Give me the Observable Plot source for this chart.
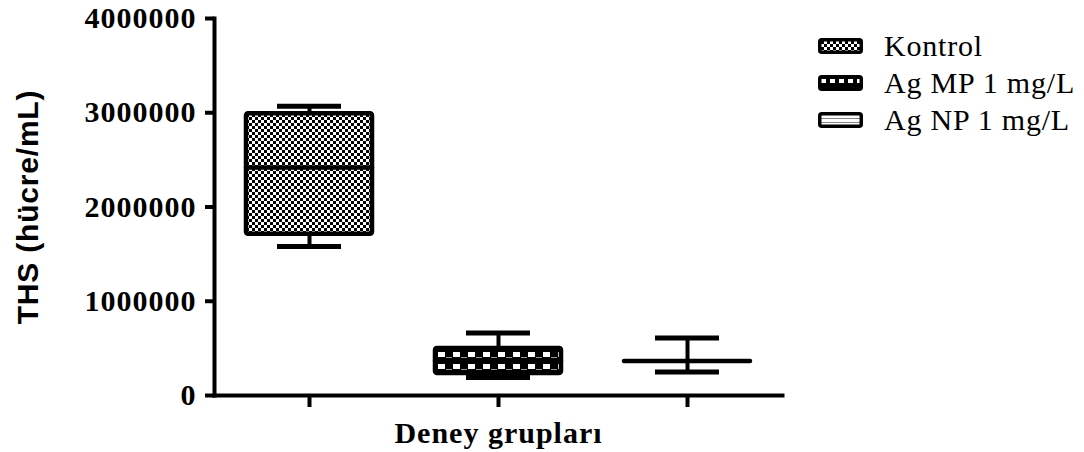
<!DOCTYPE html>
<html>
<head>
<meta charset="utf-8">
<script src="https://cdn.jsdelivr.net/npm/d3@7"></script>
<script src="https://cdn.jsdelivr.net/npm/@observablehq/plot@0.6"></script>
<style>
  html, body { margin: 0; padding: 0; background: #fff; }
  #wrap { position: relative; width: 1084px; height: 452px; }
  #legend { position: absolute; left: 818px; top: 27px; font-family: "Liberation Serif", serif; font-size: 30px; letter-spacing: 0.8px; color: #000; }
  #legend .row { display: flex; align-items: center; height: 37px; }
  #legend svg { margin-right: 21px; }
  .ytitle text { font-family: "Liberation Sans", Arial, sans-serif !important; font-weight: bold; font-size: 30px; letter-spacing: 0.8px; }
</style>
</head>
<body>
<svg width="0" height="0" style="position:absolute">
  <defs>
    <pattern id="pKontrol" width="6" height="6" patternUnits="userSpaceOnUse">
      <rect width="6" height="6" fill="#fff"/>
      <rect width="3" height="3" fill="#000"/>
      <rect x="3" y="3" width="3" height="3" fill="#000"/>
    </pattern>
    <pattern id="pMP" x="438" y="352" width="15" height="12" patternUnits="userSpaceOnUse">
      <rect width="15" height="12" fill="#000"/>
      <rect width="7" height="5" fill="#fff"/>
      <rect x="8" y="5" width="6" height="1" fill="#999"/>
    </pattern>
    <pattern id="pNP" width="4" height="4" patternUnits="userSpaceOnUse">
      <rect width="4" height="4" fill="#fff"/>
      <rect y="3" width="4" height="1" fill="#777"/>
    </pattern>
    <pattern id="lMP" x="3" y="4" width="9" height="14" patternUnits="userSpaceOnUse">
      <rect width="9" height="14" fill="#000"/>
      <rect width="5" height="4" fill="#fff"/>
    </pattern>
    <pattern id="lNP" x="0" y="3" width="4" height="4" patternUnits="userSpaceOnUse">
      <rect width="4" height="4" fill="#fff"/>
      <rect y="3" width="4" height="1" fill="#888"/>
    </pattern>
  </defs>
</svg>
<div id="wrap"><div id="legend"></div></div>
<script>
// ---- data ----
const groups  = ["Kontrol", "Ag MP 1 mg/L", "Ag NP 1 mg/L"];
const mins    = [1580000, 190000, 250000];
const q1s     = [1710000, 233000, 366000];
const medians = [2420000, 370000, 366000];
const q3s     = [2990000, 500000, 366000];
const maxs    = [3070000, 663000, 610000];
const patterns = ["url(#pKontrol)", "url(#pMP)", "url(#pNP)"];
const legendPatterns = ["url(#pKontrol)", "url(#lMP)", "url(#lNP)"];
const yTicks  = [0, 1000000, 2000000, 3000000, 4000000];
const yTitle  = "THS (hücre/mL)";
const xTitle  = "Deney grupları";

const rows = groups.map((g, i) => ({
  group: g, min: mins[i], q1: q1s[i], median: medians[i], q3: q3s[i], max: maxs[i], pat: patterns[i]
}));

const chart = Plot.plot({
  width: 1084,
  height: 452,
  marginLeft: 214,
  marginRight: 302,
  marginTop: 18,
  marginBottom: 57,
  style: { fontFamily: "Liberation Serif, serif", fontSize: "30px", fontWeight: "bold", letterSpacing: "1px", overflow: "visible", background: "#fff" },
  x: { type: "band", domain: groups, paddingInner: 0.333, paddingOuter: 0.169, axis: null },
  y: { domain: [0, 4000000], axis: null },
  color: { type: "identity" },
  marks: [
    // whiskers
    Plot.ruleX(rows, { x: "group", y1: "q3", y2: "max", stroke: "#000", strokeWidth: 4 }),
    Plot.ruleX(rows, { x: "group", y1: "min", y2: "q1", stroke: "#000", strokeWidth: 4 }),
    Plot.tickY(rows, { x: "group", y: "max", stroke: "#000", strokeWidth: 5, insetLeft: 31, insetRight: 31 }),
    Plot.tickY(rows, { x: "group", y: "min", stroke: "#000", strokeWidth: 5, insetLeft: 31, insetRight: 31 }),
    // boxes
    Plot.barY(rows, { x: "group", y1: "q1", y2: "q3", fill: "pat", stroke: "#000", strokeWidth: 4.5, strokeLinejoin: "round", rx: 2 }),
    Plot.tickY(rows, { x: "group", y: "median", stroke: "#000", strokeWidth: 4.5, strokeLinecap: "round" }),
    // axes
    Plot.axisY({ ticks: yTicks, tickFormat: d3.format("d"), tickSize: 9, tickPadding: 9, strokeWidth: 4, label: null }),
    Plot.axisX({ tickSize: 12, tickFormat: () => "", strokeWidth: 4, label: null }),
    Plot.frame({ anchor: "left", strokeWidth: 4, strokeLinecap: "square" }),
    Plot.frame({ anchor: "bottom", strokeWidth: 4, strokeLinecap: "square" }),
    // titles
    Plot.text([xTitle], { frameAnchor: "bottom", dy: 47, text: d => d, fontSize: 30, fontWeight: "bold" }),
    Plot.text([yTitle], { frameAnchor: "left", dx: -186, rotate: -90, textAnchor: "middle", text: d => d, className: "ytitle" })
  ]
});
document.getElementById("wrap").prepend(chart);

// legend
const legend = d3.select("#legend");
groups.forEach((g, i) => {
  const row = legend.append("div").attr("class", "row");
  const s = row.append("svg").attr("width", 45).attr("height", 16);
  s.append("rect").attr("x", 1.75).attr("y", 1.75).attr("width", 41.5).attr("height", 12.5)
    .attr("rx", 2).attr("fill", legendPatterns[i]).attr("stroke", "#000").attr("stroke-width", 3.5);
  row.append("span").text(g);
});
</script>
</body>
</html>
